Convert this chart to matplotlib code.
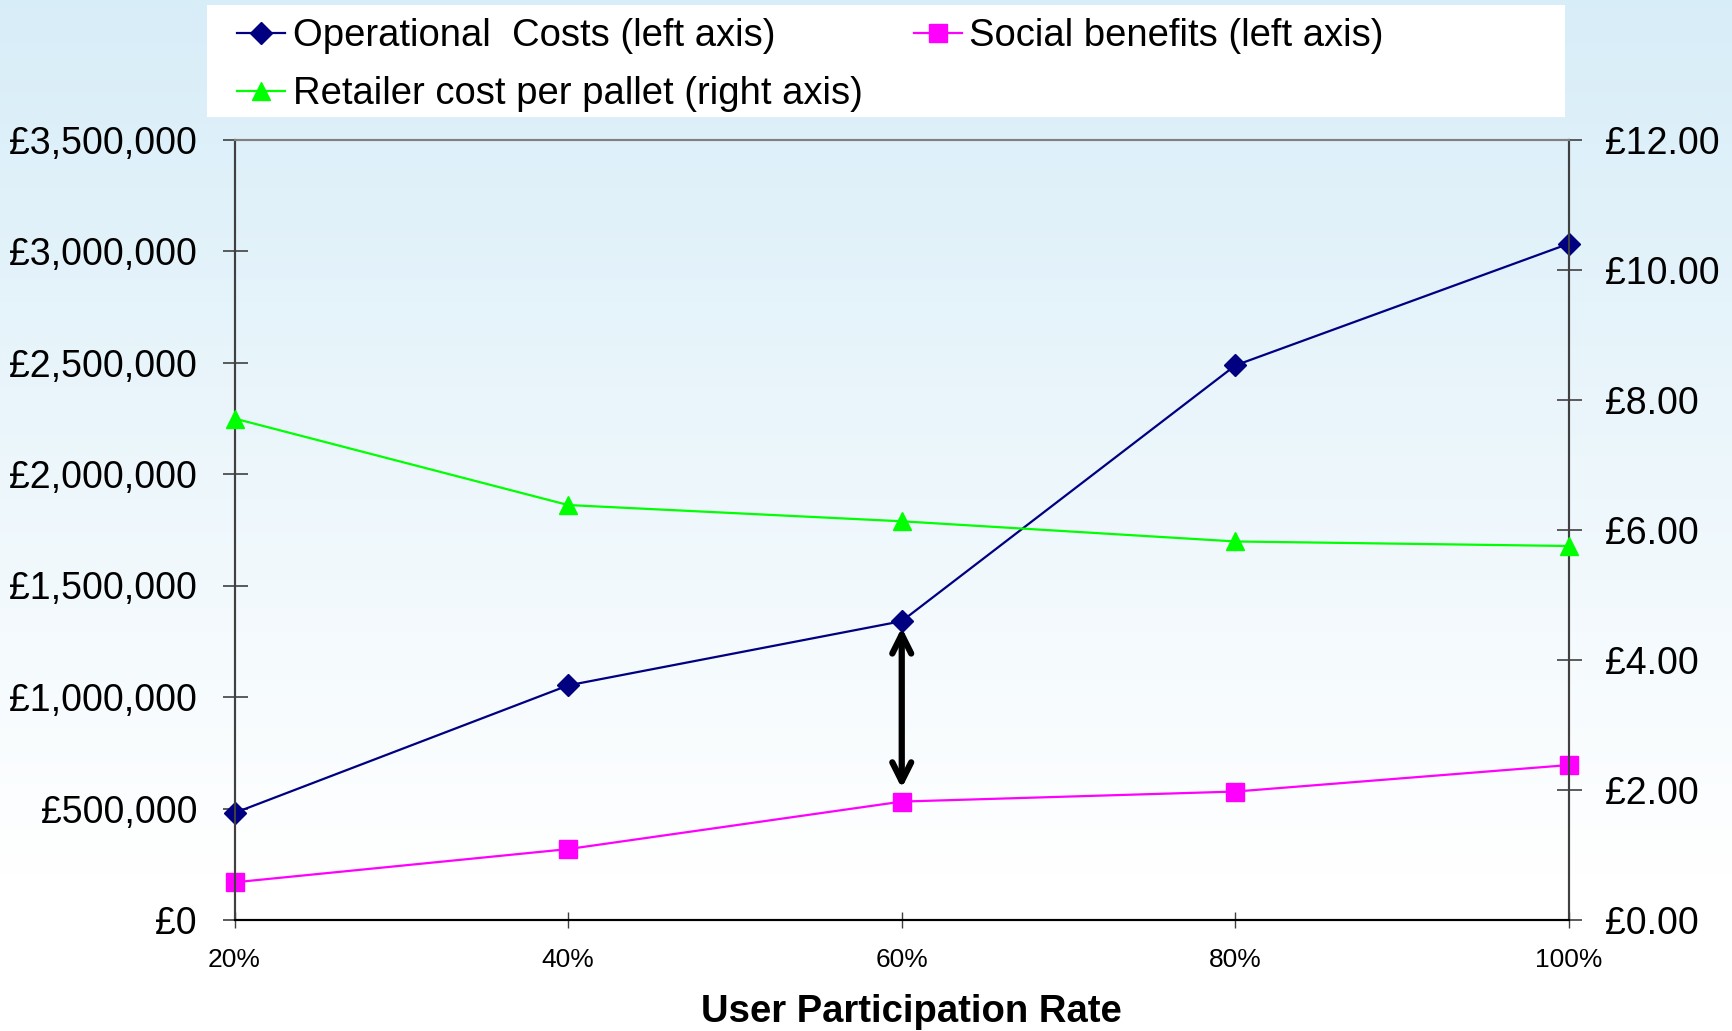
import matplotlib
matplotlib.use("Agg")
import matplotlib.pyplot as plt
import numpy as np
from matplotlib.patches import Rectangle
from matplotlib.ticker import FuncFormatter

plt.rcParams['font.family'] = ['Liberation Sans', 'DejaVu Sans']

categories = ["20%", "40%", "60%", "80%", "100%"]
operational_costs = [480000, 1052000, 1340000, 2487000, 3033000]
social_benefits = [169000, 318000, 531000, 576000, 695000]
retailer_cost = [7.71, 6.38, 6.13, 5.82, 5.75]
arrow_top = 1311000
arrow_bottom = 591000

W, H = 1732, 1031
fig = plt.figure(figsize=(W / 100, H / 100), dpi=100)

# gradient background
bg = fig.add_axes([0, 0, 1, 1], zorder=-10)
bg.set_axis_off()
n = 256
t = np.linspace(0, 1, n)  # 0 top, 1 bottom
top = np.array([0.845, 0.93, 0.972])
frac = np.clip(t / 0.85, 0, 1)[:, None]
grad = top[None, :] * (1 - frac) + np.ones(3)[None, :] * frac
bg.imshow(grad[:, None, :], aspect='auto', extent=[0, 1, 0, 1], transform=bg.transAxes)

left, right = 234.5 / W, 1569 / W
bottom, topy = 1 - 920 / H, 1 - 139.5 / H
ax = fig.add_axes([left, bottom, right - left, topy - bottom])
ax.patch.set_alpha(0)
ax2 = ax.twinx()
ax2.patch.set_alpha(0)

x = np.arange(len(categories))
l1, = ax.plot(x, operational_costs, color='#000080', lw=1.6, marker='D', ms=11,
              label='Operational  Costs (left axis)', clip_on=False, zorder=5)
l2, = ax.plot(x, social_benefits, color='#FF00FF', lw=1.6, marker='s', ms=13,
              label='Social benefits (left axis)', clip_on=False, zorder=5)
l3, = ax2.plot(x, retailer_cost, color='#00FF00', lw=1.6, marker='^', ms=13,
               label='Retailer cost per pallet (right axis)', clip_on=False, zorder=5)

ax.annotate('', xy=(x[2], arrow_bottom), xytext=(x[2], arrow_top),
            arrowprops=dict(arrowstyle='<->', lw=4.5, color='black',
                            mutation_scale=34, shrinkA=0, shrinkB=0), zorder=6)

ax.set_xlim(0, len(categories) - 1)
ax.set_ylim(0, 3500000)
ax2.set_ylim(0, 12)
ax.set_yticks(np.arange(0, 3500001, 500000))
ax2.set_yticks(np.arange(0, 12.01, 2))
ax.yaxis.set_major_formatter(FuncFormatter(lambda v, p: "£{:,.0f}".format(v)))
ax2.yaxis.set_major_formatter(FuncFormatter(lambda v, p: "£{:.2f}".format(v)))
ax.set_xticks(x)
ax.set_xticklabels(categories)

for a in (ax, ax2):
    for s in a.spines.values():
        s.set_color('#404040')
        s.set_linewidth(1.5)
    a.spines['top'].set_color('#808080')
    a.spines['bottom'].set_color('black')

ax.tick_params(axis='y', direction='inout', length=18, width=1.2, color='#404040',
               labelsize=27, pad=18)
ax2.tick_params(axis='y', direction='inout', length=18, width=1.2, color='#404040',
                labelsize=27, pad=17)
ax.tick_params(axis='x', direction='inout', length=11, width=1.0, color='#404040',
               labelsize=19, pad=15)

ax.set_xlabel('User Participation Rate', fontsize=27.5, fontweight='bold', va='center')
ax.xaxis.set_label_coords(0.5075, -(1012 - 920) / 780.5)

# legend box
fig.patches.append(Rectangle((207 / W, 1 - 117 / H), (1565 - 207) / W, (117 - 5.5) / H,
                             transform=fig.transFigure, facecolor='white',
                             edgecolor='none', zorder=1))
leg = fig.legend(handles=[l1, l3, l2], loc='upper left', ncol=2,
                 bbox_to_anchor=(222 / W, 1 - 3 / H), frameon=False, fontsize=27.5,
                 handlelength=1.25, handletextpad=0.2, columnspacing=1.35,
                 labelspacing=0.57, borderaxespad=0)
leg.set_zorder(2)

fig.savefig('out.png', dpi=100)
